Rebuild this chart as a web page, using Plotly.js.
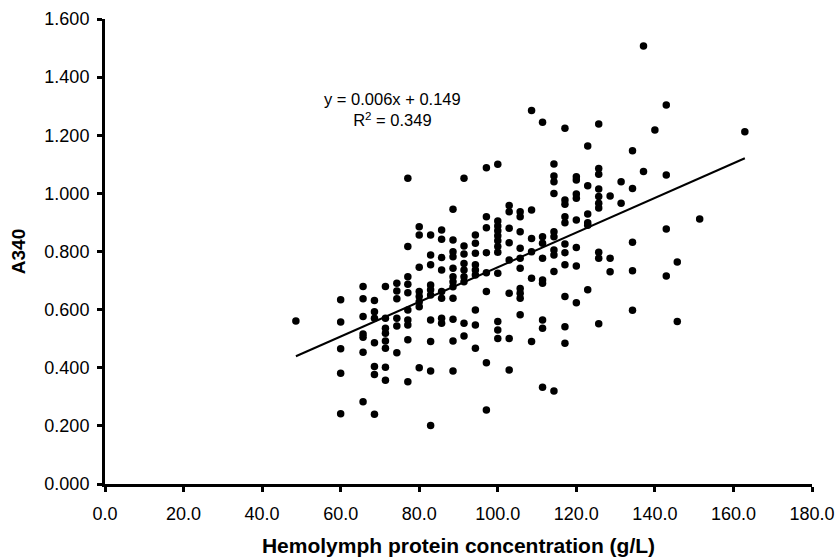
<!DOCTYPE html>
<html>
<head>
<meta charset="utf-8">
<script src="https://cdn.plot.ly/plotly-3.0.1.min.js"></script>
<style>
  html, body { margin: 0; padding: 0; background: #fff; }
  #chart { width: 839px; height: 559px; }
</style>
</head>
<body>
<div id="chart"></div>
<script>
// Hemolymph protein concentration (g/L) -- paired with A340 values below
const protein = [
  48.6,
  60.0, 60.0, 60.0, 60.0, 60.0,
  65.7, 65.7, 65.7, 65.7, 65.7, 65.7, 65.7,
  68.6, 68.6, 68.6, 68.6, 68.6, 68.6, 68.6,
  71.4, 71.4, 71.4, 71.4, 71.4, 71.4, 71.4, 71.4,
  74.3, 74.3, 74.3, 74.3, 74.3, 74.3,
  77.1, 77.1, 77.1, 77.1, 77.1, 77.1, 77.1, 77.1, 77.1, 77.1,
  80.0, 80.0, 80.0, 80.0, 80.0, 80.0, 80.0, 80.0,
  82.9, 82.9, 82.9, 82.9, 82.9, 82.9, 82.9, 82.9, 82.9, 82.9,
  85.7, 85.7, 85.7, 85.7, 85.7, 85.7, 85.7, 85.7,
  88.6, 88.6, 88.6, 88.6, 88.6, 88.6, 88.6, 88.6, 88.6, 88.6, 88.6, 88.6,
  91.4, 91.4, 91.4, 91.4, 91.4, 91.4, 91.4, 91.4, 91.4,
  94.3, 94.3, 94.3, 94.3, 94.3, 94.3, 94.3, 94.3, 94.3,
  97.1, 97.1, 97.1, 97.1, 97.1, 97.1, 97.1, 97.1,
  100.0, 100.0, 100.0, 100.0, 100.0, 100.0, 100.0, 100.0, 100.0, 100.0, 100.0, 100.0,
  102.9, 102.9, 102.9, 102.9, 102.9, 102.9, 102.9, 102.9,
  105.7, 105.7, 105.7, 105.7, 105.7, 105.7, 105.7, 105.7, 105.7, 105.7,
  108.6, 108.6, 108.6, 108.6, 108.6, 108.6,
  111.4, 111.4, 111.4, 111.4, 111.4, 111.4, 111.4, 111.4, 111.4,
  114.3, 114.3, 114.3, 114.3, 114.3, 114.3, 114.3, 114.3, 114.3, 114.3,
  117.1, 117.1, 117.1, 117.1, 117.1, 117.1, 117.1, 117.1, 117.1, 117.1, 117.1,
  120.0, 120.0, 120.0, 120.0, 120.0, 120.0, 120.0, 120.0,
  122.9, 122.9, 122.9, 122.9, 122.9, 122.9,
  125.7, 125.7, 125.7, 125.7, 125.7, 125.7, 125.7, 125.7, 125.7, 125.7,
  128.6, 128.6, 128.6,
  131.4, 131.4,
  134.3, 134.3, 134.3, 134.3, 134.3,
  137.1, 137.1,
  140.0,
  142.9, 142.9, 142.9, 142.9,
  145.7, 145.7,
  151.4,
  162.9
];

const a340 = [
  0.561,
  0.634, 0.557, 0.465, 0.381, 0.242,
  0.680, 0.637, 0.576, 0.516, 0.505, 0.453, 0.283,
  0.631, 0.593, 0.570, 0.486, 0.404, 0.377, 0.240,
  0.680, 0.570, 0.536, 0.519, 0.492, 0.467, 0.402, 0.357,
  0.691, 0.664, 0.637, 0.570, 0.544, 0.452,
  1.052, 0.817, 0.713, 0.687, 0.658, 0.599, 0.564, 0.547, 0.496, 0.352,
  0.885, 0.857, 0.746, 0.662, 0.645, 0.627, 0.610, 0.400,
  0.857, 0.788, 0.754, 0.685, 0.668, 0.650, 0.564, 0.490, 0.389, 0.201,
  0.874, 0.842, 0.779, 0.736, 0.662, 0.639, 0.570, 0.553,
  0.945, 0.840, 0.799, 0.782, 0.742, 0.713, 0.696, 0.679, 0.639, 0.567, 0.492, 0.389,
  1.052, 0.819, 0.791, 0.759, 0.736, 0.713, 0.696, 0.553, 0.509,
  0.857, 0.828, 0.794, 0.754, 0.736, 0.719, 0.599, 0.547, 0.467,
  1.088, 0.920, 0.882, 0.796, 0.727, 0.662, 0.417, 0.255,
  1.100, 0.905, 0.888, 0.871, 0.854, 0.837, 0.817, 0.797, 0.725, 0.559, 0.530, 0.501,
  0.958, 0.937, 0.880, 0.830, 0.771, 0.656, 0.501, 0.392,
  0.937, 0.920, 0.868, 0.811, 0.777, 0.742, 0.673, 0.656, 0.639, 0.582,
  1.285, 0.943, 0.845, 0.799, 0.708, 0.490,
  1.245, 0.851, 0.828, 0.777, 0.702, 0.691, 0.564, 0.536, 0.333,
  1.101, 1.060, 1.040, 1.000, 0.868, 0.851, 0.805, 0.788, 0.731, 0.320,
  1.224, 0.977, 0.963, 0.920, 0.899, 0.826, 0.796, 0.754, 0.645, 0.541, 0.484,
  1.057, 1.046, 0.998, 0.983, 0.908, 0.814, 0.750, 0.624,
  1.163, 1.026, 0.929, 0.899, 0.890, 0.668,
  1.239, 1.086, 1.066, 1.015, 0.989, 0.966, 0.950, 0.797, 0.777, 0.551,
  0.991, 0.777, 0.730,
  1.040, 0.966,
  1.147, 1.017, 0.832, 0.734, 0.598,
  1.507, 1.075,
  1.218,
  1.304, 1.063, 0.877, 0.716,
  0.764, 0.559,
  0.912,
  1.212
];

// Linear trendline as drawn in the picture
const trendSlope = 0.00596;
const trendIntercept = 0.150;
const equationText = "y = 0.006x + 0.149";
const r2Text = "R<sup>2</sup> = 0.349";

// Axis ticks
const xTicks = [0, 20, 40, 60, 80, 100, 120, 140, 160, 180];
const yTicks = [0, 0.2, 0.4, 0.6, 0.8, 1.0, 1.2, 1.4, 1.6];

const xMin = Math.min(...protein);
const xMax = Math.max(...protein);

const font = "'Liberation Sans', Arial, Helvetica, sans-serif";

const traces = [
  {
    type: "scatter",
    mode: "markers",
    x: protein,
    y: a340,
    marker: { color: "#000", size: 7.5, line: { width: 0 } },
    showlegend: false,
    hoverinfo: "x+y"
  },
  {
    type: "scatter",
    mode: "lines",
    x: [xMin, xMax],
    y: [trendSlope * xMin + trendIntercept, trendSlope * xMax + trendIntercept],
    line: { color: "#000", width: 2 },
    showlegend: false,
    hoverinfo: "skip"
  }
];

const layout = {
  width: 839,
  height: 559,
  paper_bgcolor: "#fff",
  plot_bgcolor: "#fff",
  margin: { l: 105, r: 27, t: 19, b: 75, pad: 0 },
  font: { family: font, color: "#000" },
  showlegend: false,
  xaxis: {
    range: [0, 180],
    tickvals: xTicks,
    tickformat: ".1f",
    showgrid: false,
    zeroline: false,
    showline: true,
    linecolor: "#000",
    linewidth: 3,
    ticks: "outside",
    ticklen: 5,
    tickwidth: 3,
    tickcolor: "#000",
    ticklabelstandoff: 6,
    tickfont: { size: 18, family: font, color: "#000" },
    title: {
      text: "<b>Hemolymph protein concentration (g/L)</b>",
      font: { size: 21, family: font, color: "#000" },
      standoff: 16
    },
    automargin: false,
    fixedrange: true
  },
  yaxis: {
    range: [0, 1.6],
    tickvals: yTicks,
    tickformat: ".3f",
    showgrid: false,
    zeroline: false,
    showline: true,
    linecolor: "#000",
    linewidth: 3,
    ticks: "outside",
    ticklen: 5,
    tickwidth: 3,
    tickcolor: "#000",
    ticklabelstandoff: 4,
    tickfont: { size: 18, family: font, color: "#000" },
    title: {
      text: "<b>A340</b>",
      font: { size: 19, family: font, color: "#000" },
      standoff: 14
    },
    automargin: false,
    fixedrange: true
  },
  annotations: [
    {
      xref: "x", yref: "y",
      x: 73.3, y: 1.29,
      text: equationText + "<br>" + r2Text,
      showarrow: false,
      align: "center",
      font: { size: 16.5, family: font, color: "#000" }
    }
  ]
};

Plotly.newPlot("chart", traces, layout, { displayModeBar: false, staticPlot: true });
</script>
</body>
</html>
